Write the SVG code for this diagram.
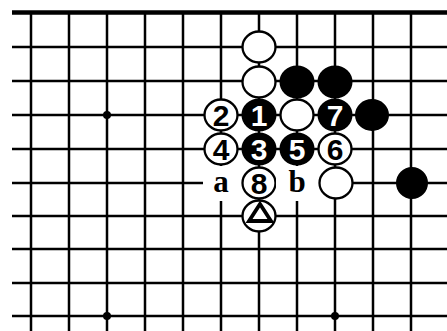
<svg xmlns="http://www.w3.org/2000/svg" width="447" height="331" viewBox="0 0 447 331">
<style>
.g{stroke:#000;stroke-width:2.5;fill:none}
.edge{stroke:#000;stroke-width:4.5;fill:none}
.w{fill:#fff;stroke:#000;stroke-width:2.3}
.b{fill:#000;stroke:#000;stroke-width:2}
.nw{font-family:"Liberation Sans",Arial,sans-serif;font-weight:bold;font-size:30px;fill:#000;text-anchor:middle}
.nb{font-family:"Liberation Sans",Arial,sans-serif;font-weight:bold;font-size:30px;fill:#fff;text-anchor:middle}
.lt{font-family:"Liberation Serif","Times New Roman",serif;font-weight:bold;font-size:31px;fill:#000;text-anchor:middle}
</style>
<rect width="447" height="331" fill="#fff"/>
<g id="grid">
<path class="g" d="M31,12V331M69,12V331M107,12V331M145,12V331M183,12V331M221,12V331M259,12V331M297,12V331M335,12V331M373,12V331M411,12V331"/>
<path class="g" d="M12,47H447M12,81H447M12,115H447M12,149H447M12,183H447M12,216H447M12,249H447M12,283H447M12,316H447"/>
<path class="edge" d="M12,12.5H447"/>
<circle cx="107" cy="115" r="4"/>
<circle cx="107" cy="316" r="4"/>
<circle cx="335" cy="316" r="4"/>
</g>
<g id="connectors"></g>
<g id="w1"><ellipse class="w" cx="259" cy="47" rx="16.5" ry="15.5"/></g>
<g id="w2"><ellipse class="w" cx="259" cy="82" rx="16.5" ry="15.5"/></g>
<g id="b1"><ellipse class="b" cx="297" cy="82" rx="16.5" ry="15.5"/></g>
<g id="b2"><ellipse class="b" cx="335" cy="82" rx="16.5" ry="15.5"/></g>
<g id="m2"><ellipse class="w" cx="221" cy="115" rx="16.5" ry="15.5"/><text class="nw" x="221" y="126">2</text></g>
<g id="m1"><ellipse class="b" cx="259" cy="115" rx="16.5" ry="15.5"/><text class="nb" x="259" y="126">1</text></g>
<g id="w3"><ellipse class="w" cx="297" cy="115" rx="16.5" ry="15.5"/></g>
<g id="m7"><ellipse class="b" cx="335" cy="115" rx="16.5" ry="15.5"/><text class="nb" x="335" y="126">7</text></g>
<g id="b3"><ellipse class="b" cx="372" cy="115" rx="16" ry="15"/></g>
<g id="m4"><ellipse class="w" cx="221" cy="149" rx="16.5" ry="15.5"/><text class="nw" x="221" y="160">4</text></g>
<g id="m3"><ellipse class="b" cx="259" cy="149" rx="16.5" ry="15.5"/><text class="nb" x="259" y="160">3</text></g>
<g id="m5"><ellipse class="b" cx="297" cy="149" rx="16.5" ry="15.5"/><text class="nb" x="297" y="160">5</text></g>
<g id="m6"><ellipse class="w" cx="335" cy="149" rx="16.5" ry="15.5"/><text class="nw" x="335" y="160">6</text></g>
<g id="la"><rect x="203" y="166" width="40" height="35" fill="#fff"/><text class="lt" x="221" y="192">a</text></g>
<g id="m8"><ellipse class="w" cx="259" cy="183" rx="16.5" ry="15.5"/><text class="nw" x="259" y="194">8</text></g>
<g id="lb"><rect x="276" y="166" width="44" height="35" fill="#fff"/><text class="lt" x="297" y="192">b</text></g>
<g id="w4"><ellipse class="w" cx="336" cy="183" rx="16.5" ry="15.5"/></g>
<g id="b4"><ellipse class="b" cx="412" cy="183" rx="15" ry="15"/></g>
<g id="tri"><ellipse class="w" cx="259" cy="216" rx="16.5" ry="15.5"/><path d="M260,204L271,221H249Z" fill="none" stroke="#000" stroke-width="3.8" stroke-linejoin="miter"/></g>
</svg>
